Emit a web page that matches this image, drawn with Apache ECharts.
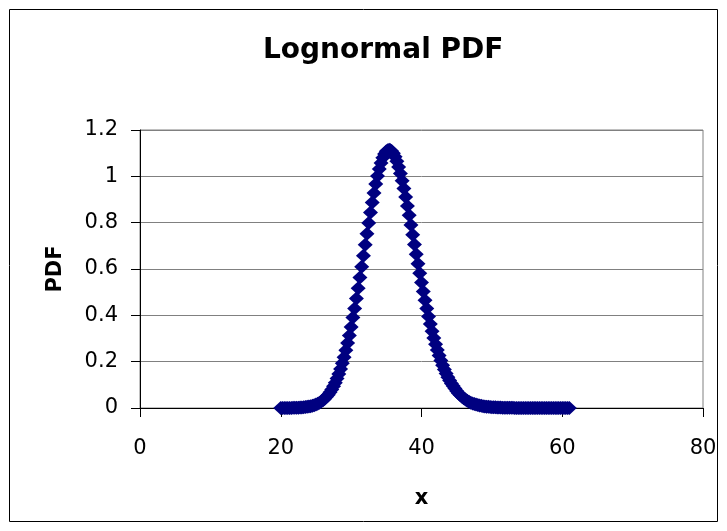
<!DOCTYPE html>
<html>
<head>
<meta charset="utf-8">
<title>Lognormal PDF</title>
<script src="https://cdn.jsdelivr.net/npm/echarts@6/dist/echarts.min.js"></script>
<style>
    html, body { margin: 0; padding: 0; background: #fff; }
    #main-chart { width: 727px; height: 531px; }
</style>
</head>
<body>
<div id="main-chart"></div>
<script>
// ============================================================
// Data
// ============================================================

const X_VALUES = [
    20, 20.25, 20.5, 20.75, 21, 21.25, 21.5, 21.75,
    22, 22.25, 22.5, 22.75, 23, 23.25, 23.5, 23.75,
    24, 24.25, 24.5, 24.75, 25, 25.25, 25.5, 25.75,
    26, 26.25, 26.5, 26.75, 27, 27.25, 27.5, 27.75,
    28, 28.25, 28.5, 28.75, 29, 29.25, 29.5, 29.75,
    30, 30.25, 30.5, 30.75, 31, 31.25, 31.5, 31.75,
    32, 32.25, 32.5, 32.75, 33, 33.25, 33.5, 33.75,
    34, 34.25, 34.5, 34.75, 35, 35.25, 35.5, 35.75,
    36, 36.25, 36.5, 36.75, 37, 37.25, 37.5, 37.75,
    38, 38.25, 38.5, 38.75, 39, 39.25, 39.5, 39.75,
    40, 40.25, 40.5, 40.75, 41, 41.25, 41.5, 41.75,
    42, 42.25, 42.5, 42.75, 43, 43.25, 43.5, 43.75,
    44, 44.25, 44.5, 44.75, 45, 45.25, 45.5, 45.75,
    46, 46.25, 46.5, 46.75, 47, 47.25, 47.5, 47.75,
    48, 48.25, 48.5, 48.75, 49, 49.25, 49.5, 49.75,
    50, 50.25, 50.5, 50.75, 51, 51.25, 51.5, 51.75,
    52, 52.25, 52.5, 52.75, 53, 53.25, 53.5, 53.75,
    54, 54.25, 54.5, 54.75, 55, 55.25, 55.5, 55.75,
    56, 56.25, 56.5, 56.75, 57, 57.25, 57.5, 57.75,
    58, 58.25, 58.5, 58.75, 59, 59.25, 59.5, 59.75,
    60, 60.25, 60.5, 60.75, 61
];

const PDF_VALUES = [
    0.0001, 0.0001, 0.0002, 0.0002, 0.0003, 0.0004, 0.0005, 0.0007,
    0.0009, 0.0012, 0.0015, 0.0019, 0.0025, 0.0032, 0.0040, 0.0051,
    0.0064, 0.0080, 0.0100, 0.0124, 0.0152, 0.0187, 0.0228, 0.0278,
    0.0334, 0.0403, 0.0482, 0.0572, 0.0678, 0.0796, 0.0934, 0.1095,
    0.1273, 0.1465, 0.1685, 0.1937, 0.2186, 0.2488, 0.2805, 0.3132,
    0.3494, 0.3903, 0.4299, 0.4727, 0.5172, 0.5631, 0.6095, 0.6570,
    0.7046, 0.7520, 0.7987, 0.8438, 0.8871, 0.9283, 0.9665, 1.0009,
    1.0315, 1.0580, 1.0798, 1.0964, 1.1080, 1.1140, 1.1146, 1.1097,
    1.0995, 1.0843, 1.0646, 1.0406, 1.0127, 0.9813, 0.9471, 0.9104,
    0.8717, 0.8316, 0.7903, 0.7483, 0.7061, 0.6640, 0.6222, 0.5812,
    0.5412, 0.5025, 0.4650, 0.4291, 0.3947, 0.3623, 0.3314, 0.3025,
    0.2753, 0.2500, 0.2264, 0.2046, 0.1844, 0.1659, 0.1488, 0.1332,
    0.1191, 0.1062, 0.0945, 0.0839, 0.0730, 0.0640, 0.0560, 0.0485,
    0.0420, 0.0362, 0.0312, 0.0268, 0.0230, 0.0198, 0.0170, 0.0146,
    0.0125, 0.0107, 0.0092, 0.0079, 0.0068, 0.0058, 0.0050, 0.0043,
    0.0037, 0.0031, 0.0027, 0.0023, 0.0020, 0.0017, 0.0014, 0.0012,
    0.0010, 0.0009, 0.0008, 0.0007, 0.0006, 0.0005, 0.0004, 0.0004,
    0.0003, 0.0003, 0.0002, 0.0002, 0.0002, 0.0001, 0.0001, 0.0001,
    0.0001, 0.0001, 0.0001, 0.0001, 0.0001, 0.0001, 0.0001, 0.0001,
    0.0001, 0.0001, 0.0001, 0.0001, 0.0001, 0.0001, 0.0001, 0.0001,
    0.0001, 0.0001, 0.0001, 0.0001, 0.0001
];

const X_TICKS = { min: 0, max: 80, interval: 20 };
const Y_TICKS = { min: 0, max: 1.2, interval: 0.2 };

const CHART_TITLE = 'Lognormal PDF';
const X_NAME = 'x';
const Y_NAME = 'PDF';

// ============================================================
// Chart
// ============================================================

const FONT = 'DejaVu Sans';
const myChart = echarts.init(document.getElementById('main-chart'), null, { renderer: 'canvas' });

const points = X_VALUES.map((x, i) => [x, PDF_VALUES[i]]);

const option = {
    animation: false,
    backgroundColor: '#fff',
    title: {
        text: CHART_TITLE,
        left: 258,
        top: 32,
        textStyle: { fontFamily: FONT, fontSize: 28, fontWeight: 'bold', color: '#000' }
    },
    grid: {
        left: 140, top: 130, width: 563, height: 278,
        show: true, borderColor: '#808080', borderWidth: 1
    },
    xAxis: {
        type: 'value',
        min: X_TICKS.min, max: X_TICKS.max, interval: X_TICKS.interval,
        name: X_NAME,
        nameLocation: 'middle',
        nameGap: 80,
        nameTextStyle: { fontFamily: FONT, fontSize: 21, fontWeight: 'bold', color: '#000' },
        axisLine: { lineStyle: { color: '#000', width: 1 } },
        axisTick: { show: true, inside: false, length: 9, lineStyle: { color: '#000' } },
        axisLabel: { fontFamily: FONT, fontSize: 21, color: '#000', margin: 30 },
        splitLine: { show: false }
    },
    yAxis: {
        type: 'value',
        min: Y_TICKS.min, max: Y_TICKS.max, interval: Y_TICKS.interval,
        name: Y_NAME,
        nameLocation: 'middle',
        nameGap: 74,
        nameRotate: 90,
        nameTextStyle: { fontFamily: FONT, fontSize: 21, fontWeight: 'bold', color: '#000' },
        axisLine: { show: true, lineStyle: { color: '#000', width: 1 } },
        axisTick: { show: true, inside: false, length: 9, lineStyle: { color: '#000' } },
        axisLabel: { fontFamily: FONT, fontSize: 21, color: '#000', margin: 22 },
        splitLine: { show: true, lineStyle: { color: '#808080', width: 1 } }
    },
    graphic: [{
        type: 'rect',
        silent: true,
        shape: { x: 9.5, y: 9.5, width: 708, height: 512 },
        style: { fill: 'none', stroke: '#000', lineWidth: 1 }
    }],
    series: [{
        type: 'scatter',
        data: points,
        symbol: 'diamond',
        symbolSize: [15, 14],
        itemStyle: { color: '#000080', opacity: 1 }
    }]
};

myChart.setOption(option);
</script>
</body>
</html>
